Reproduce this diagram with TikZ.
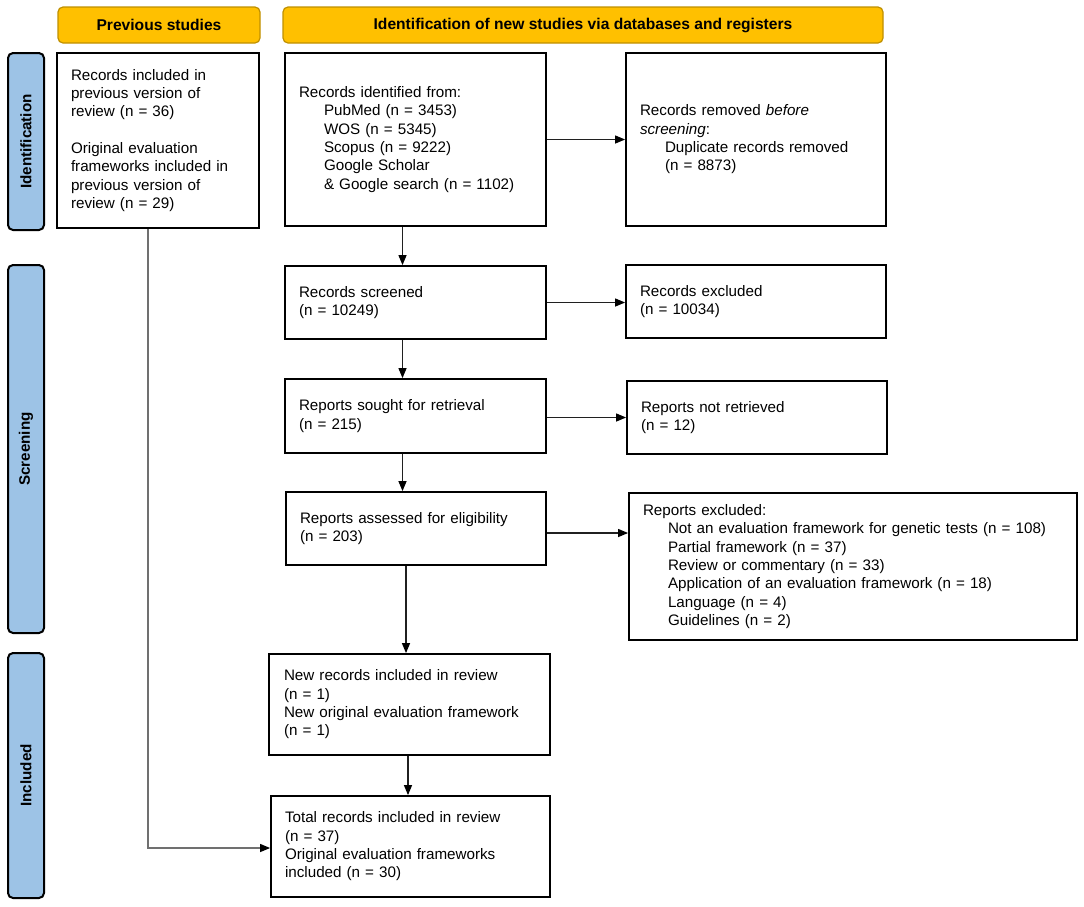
\documentclass[tikz,border=0pt]{standalone}
\usepackage{fontspec}
\setmainfont{Liberation Sans}
\usetikzlibrary{arrows.meta}
\definecolor{hdrfill}{HTML}{FFC000}
\definecolor{hdrline}{HTML}{BF9000}
\definecolor{sidefill}{HTML}{9DC3E6}
\definecolor{arrcol}{HTML}{202020}
\definecolor{prevline}{HTML}{707070}
\begin{document}
\begin{tikzpicture}[x=1pt,y=-1pt,
  box/.style={draw=black, line width=1.8pt, fill=white, inner xsep=14pt, inner ysep=0pt,
    align=left, font=\fontsize{15.2}{18.3}\selectfont},
  hdr/.style={draw=hdrline, line width=1.2pt, fill=hdrfill, rounded corners=5pt,
    font=\fontsize{15.6}{17}\selectfont\bfseries, inner sep=0pt},
  side/.style={draw=black, line width=2pt, fill=sidefill, rounded corners=5pt, rotate=90,
    font=\fontsize{15.2}{17}\selectfont\bfseries, inner sep=0pt, minimum height=36pt},
  arr/.style={draw=arrcol, line width=1.2pt, -{Triangle[length=10pt,width=8pt,color=black]}},
]
\useasboundingbox (0,0) rectangle (1084,906);
% headers
\node[hdr, minimum width=202pt, minimum height=36pt] (hprev) at (159,25) {Previous studies};
\node[hdr, minimum width=600pt, minimum height=36pt] (hnew) at (583,25) {Identification of new studies via databases and registers};
% side labels
\node[side, minimum width=177pt] (sident) at (26,141.5) {Identification};
\node[side, minimum width=368pt] (sscreen) at (26,449) {Screening};
\node[side, minimum width=245pt] (sincl) at (26,775.5) {Included};
% boxes
\node[box, text width=174pt, minimum width=202pt, minimum height=175pt] (prev) at (158,140.5)
  {Records included in\\previous version of\\review (n = 36)\\[18.3pt]Original evaluation\\frameworks included in\\previous version of\\review (n = 29)};
\node[box, text width=233pt, minimum width=261pt, minimum height=173pt] (ident) at (415.5,139.5)
  {Records identified from:\\\hspace*{25pt}PubMed (n = 3453)\\\hspace*{25pt}WOS (n = 5345)\\\hspace*{25pt}Scopus (n = 9222)\\\hspace*{25pt}Google Scholar\\\hspace*{25pt}\& Google search (n = 1102)};
\node[box, text width=232pt, minimum width=260pt, minimum height=173pt] (removed) at (756,139.5)
  {Records removed \textit{before}\\\textit{screening}:\\\hspace*{25pt}Duplicate records removed\\\hspace*{25pt}(n = 8873)};
\node[box, text width=233pt, minimum width=261pt, minimum height=73pt] (screened) at (415.5,302.5)
  {Records screened\\(n = 10249)};
\node[box, text width=232pt, minimum width=260pt, minimum height=73pt] (excluded) at (756,301.5)
  {Records excluded\\(n = 10034)};
\node[box, text width=233pt, minimum width=261pt, minimum height=74pt] (sought) at (415.5,416)
  {Reports sought for retrieval\\(n = 215)};
\node[box, text width=232pt, minimum width=260pt, minimum height=73pt] (notret) at (757,417.5)
  {Reports not retrieved\\(n = 12)};
\node[box, text width=232pt, minimum width=260pt, minimum height=73pt] (assessed) at (416,528.5)
  {Reports assessed for eligibility\\(n = 203)};
\node[box, text width=420pt, minimum width=448pt, minimum height=147pt] (repexcl) at (853,566.5)
  {Reports excluded:\\\hspace*{25pt}Not an evaluation framework for genetic tests (n = 108)\\\hspace*{25pt}Partial framework (n = 37)\\\hspace*{25pt}Review or commentary (n = 33)\\\hspace*{25pt}Application of an evaluation framework (n = 18)\\\hspace*{25pt}Language (n = 4)\\\hspace*{25pt}Guidelines (n = 2)};
\node[box, inner xsep=15pt, text width=251pt, minimum width=281pt, minimum height=101pt] (newrec) at (409.5,704.5)
  {New records included in review\\(n = 1)\\New original evaluation framework\\(n = 1)};
\node[box, text width=251pt, minimum width=279pt, minimum height=101pt] (total) at (410.5,846.5)
  {Total records included in review\\(n = 37)\\Original evaluation frameworks\\included (n = 30)};
% guide coordinates
\coordinate (xa) at (402.5,0);
\coordinate (xb) at (406,0);
\coordinate (xc) at (408,0);
\coordinate (xp) at (148,0);
% connectors
\draw[arr] (ident.south -| xa) -- (screened.north -| xa);
\draw[arr] (screened.south -| xa) -- (sought.north -| xa);
\draw[arr] (sought.south -| xa) -- (assessed.north -| xa);
\draw[arr] (assessed.south -| xb) -- (newrec.north -| xb);
\draw[arr] (newrec.south -| xc) -- (total.north -| xc);
\draw[arr] (ident.east) -- (ident.east -| removed.west);
\draw[arr] (screened.east) -- (screened.east -| excluded.west);
\draw[arr] ([yshift=-1.5pt]sought.east) -- ([yshift=-1.5pt]sought.east -| notret.west);
\draw[arr] ([yshift=-4.5pt]assessed.east) -- ([yshift=-4.5pt]assessed.east -| repexcl.west);
\draw[arr, draw=prevline] (prev.south -| xp) |- ([yshift=-1.5pt]total.west);
\end{tikzpicture}
\end{document}
